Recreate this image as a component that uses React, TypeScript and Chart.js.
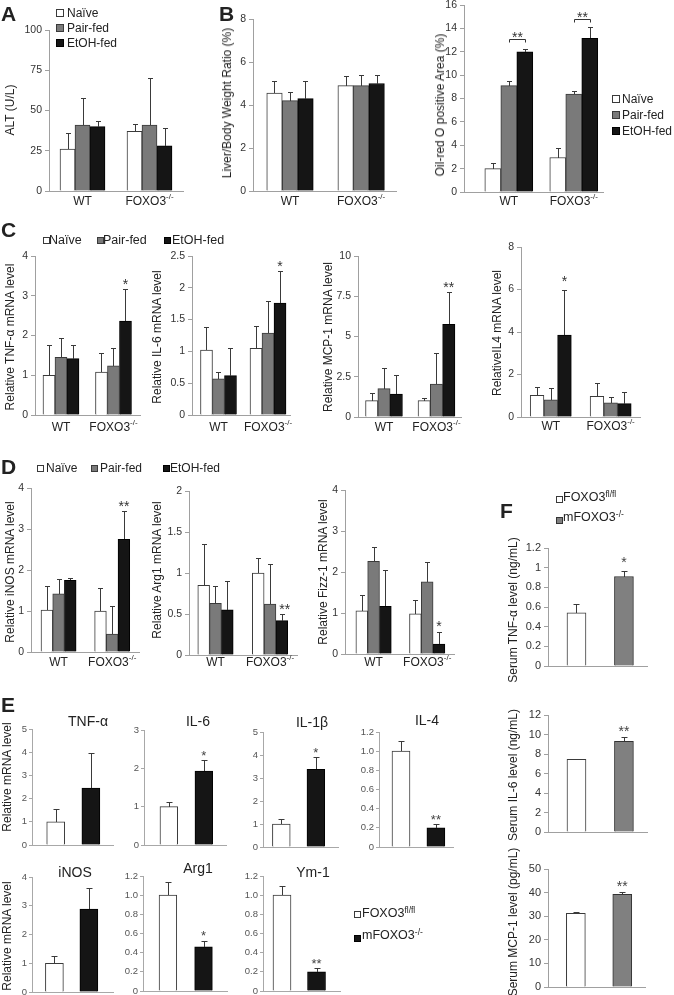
import React, { useEffect, useRef } from 'react';
import { Chart, registerables } from 'chart.js';

Chart.register(...registerables);

const FONT = '"Liberation Sans", Arial, Helvetica, sans-serif';

// ---------------- categories / legend labels ----------------
const genotypes = ['WT', 'FOXO3'];
const genotypeSup = ['', '-/-'];
const dietGroups = ['Naïve', 'Pair-fed', 'EtOH-fed'];
const mouseLines = ['FOXO3', 'mFOXO3'];
const mouseLineSup = ['fl/fl', '-/-'];

// ---------------- A: ALT (rows = Naïve, Pair-fed, EtOH-fed; cols = WT, FOXO3-/-) ----------------
const altMean = [[26, 37], [41, 41], [40, 28]];
const altErr = [[10, 4.5], [16.5, 29], [3.5, 11]];
const altTicks = [0, 25, 50, 75, 100];

// ---------------- B: Liver/Body weight ratio ----------------
const lbwMean = [[4.55, 4.9], [4.2, 4.9], [4.3, 5.0]];
const lbwErr = [[0.58, 0.45], [0.42, 0.5], [0.8, 0.38]];
const lbwTicks = [0, 2, 4, 6, 8];

// ---------------- B: Oil-red O positive area ----------------
const oilMean = [[2.0, 2.95], [9.1, 8.38], [12.0, 13.15]];
const oilErr = [[0.5, 0.8], [0.4, 0.25], [0.2, 0.95]];
const oilTicks = [0, 2, 4, 6, 8, 10, 12, 14, 16];
const oilBrackets = [
  { c: 0, from: 1, to: 2, y: 13.1, t: '**' },
  { c: 1, from: 1, to: 2, y: 14.8, t: '**' },
];

// ---------------- C: hepatic mRNA ----------------
const cTnfMean = [[1.0, 1.08], [1.45, 1.24], [1.42, 2.36]];
const cTnfErr = [[0.77, 0.49], [0.48, 0.45], [0.35, 0.81]];
const cTnfTicks = [0, 1, 2, 3, 4];
const cTnfStars = [{ s: 2, c: 1, t: '*' }];

const cIl6Mean = [[1.02, 1.05], [0.57, 1.29], [0.62, 1.76]];
const cIl6Err = [[0.36, 0.35], [0.1, 0.5], [0.43, 0.5]];
const cIl6Ticks = [0, 0.5, 1, 1.5, 2, 2.5];
const cIl6Stars = [{ s: 2, c: 1, t: '*' }];

const cMcpMean = [[1.02, 1.02], [1.76, 2.05], [1.43, 5.75]];
const cMcpErr = [[0.49, 0.16], [1.29, 1.95], [1.2, 2.0]];
const cMcpTicks = [0, 2.5, 5, 7.5, 10];
const cMcpStars = [{ s: 2, c: 1, t: '**' }];

const cIl4Mean = [[1.02, 0.97], [0.81, 0.67], [3.86, 0.63]];
const cIl4Err = [[0.41, 0.63], [0.55, 0.25], [2.12, 0.57]];
const cIl4Ticks = [0, 2, 4, 6, 8];
const cIl4Stars = [{ s: 2, c: 0, t: '*', dy: -4 }];

// ---------------- D: macrophage mRNA ----------------
const dInosMean = [[1.02, 1.0], [1.42, 0.44], [1.75, 2.75]];
const dInosErr = [[0.58, 0.55], [0.36, 0.68], [0.05, 0.7]];
const dInosTicks = [0, 1, 2, 3, 4];
const dInosStars = [{ s: 2, c: 1, t: '**' }];

const dArg1Mean = [[0.85, 1.0], [0.63, 0.62], [0.55, 0.42]];
const dArg1Err = [[0.5, 0.18], [0.21, 0.49], [0.35, 0.08]];
const dArg1Ticks = [0, 0.5, 1, 1.5, 2];
const dArg1Stars = [{ s: 2, c: 1, t: '**', dx: 3 }];

const dFizzMean = [[1.05, 0.98], [2.26, 1.76], [1.16, 0.24]];
const dFizzErr = [[0.4, 0.34], [0.34, 0.48], [0.89, 0.3]];
const dFizzTicks = [0, 1, 2, 3, 4];
const dFizzStars = [{ s: 2, c: 1, t: '*', dy: -1 }];

// ---------------- E: FOXO3fl/fl vs mFOXO3-/- mRNA ----------------
const eTnfMean = [1.0, 2.45];
const eTnfErr = [0.55, 1.5];
const eTnfTicks = [0, 1, 2, 3, 4, 5];

const eIl6Mean = [1.0, 1.93];
const eIl6Err = [0.13, 0.3];
const eIl6Ticks = [0, 1, 2, 3];
const eIl6Stars = [{ s: 0, c: 1, t: '*' }];

const eIl1bMean = [1.0, 3.38];
const eIl1bErr = [0.22, 0.53];
const eIl1bTicks = [0, 1, 2, 3, 4, 5];
const eIl1bStars = [{ s: 0, c: 1, t: '*' }];

const eIl4Mean = [1.0, 0.2];
const eIl4Err = [0.11, 0.045];
const eIl4Ticks = [0, 0.2, 0.4, 0.6, 0.8, 1.0, 1.2];
const eIl4Stars = [{ s: 0, c: 1, t: '**' }];

const eInosMean = [1.0, 2.88];
const eInosErr = [0.25, 0.74];
const eInosTicks = [0, 1, 2, 3, 4];

const eArg1Mean = [1.0, 0.46];
const eArg1Err = [0.14, 0.06];
const eArg1Ticks = [0, 0.2, 0.4, 0.6, 0.8, 1.0, 1.2];
const eArg1Stars = [{ s: 0, c: 1, t: '*', dy: -1 }];

const eYm1Mean = [1.0, 0.2];
const eYm1Err = [0.1, 0.045];
const eYm1Ticks = [0, 0.2, 0.4, 0.6, 0.8, 1.0, 1.2];
const eYm1Stars = [{ s: 0, c: 1, t: '**' }];

// ---------------- F: serum cytokines ----------------
const fTnfMean = [0.54, 0.91];
const fTnfErr = [0.09, 0.06];
const fTnfTicks = [0, 0.2, 0.4, 0.6, 0.8, 1, 1.2];
const fTnfStars = [{ s: 0, c: 1, t: '*', dy: -4 }];

const fIl6Mean = [7.45, 9.3];
const fIl6Err = [0.08, 0.45];
const fIl6Ticks = [0, 2, 4, 6, 8, 10, 12];
const fIl6Stars = [{ s: 0, c: 1, t: '**', dy: -1 }];

const fMcpMean = [31.2, 39.3];
const fMcpErr = [0.6, 1.1];
const fMcpTicks = [0, 10, 20, 30, 40, 50];
const fMcpStars = [{ s: 0, c: 1, t: '**', dy: -1 }];

// ---------------- styles ----------------
const DIET_FILL = ['#ffffff', '#7a7a7a', '#151515'];
const DIET_STROKE = ['#3a3a3a', '#3a3a3a', '#000000'];
const E_FILL = ['#ffffff', '#151515'];
const E_STROKE = ['#3a3a3a', '#000000'];
const F_FILL = ['#ffffff', '#808080'];
const F_STROKE = ['#3a3a3a', '#333333'];

const fmtPlain = (v: number) => String(Number(v.toFixed(2)));
const fmtOne = (v: number) => (v === 0 ? '0' : v.toFixed(1));

type Star = { s: number; c: number; t: string; dx?: number; dy?: number };
type Bracket = { c: number; from: number; to: number; y: number; t: string };
type Spec = {
  key: string;
  x0: number; x1: number; yTop: number; yBottom: number;
  xMin: number; xMax: number;
  ticks: number[]; fmt: (v: number) => string;
  means: number[][]; errs: number[][];
  fills: (string | string[])[]; strokes: (string | string[])[];
  barW: number; cap: number;
  labels?: string[]; sups?: string[]; labelY?: number;
  stars?: Star[]; brackets?: Bracket[];
  tickSize: number; tickColor: string; axisColor: string; tickLen: number; tickPad: number;
  starSize: number; starColor: string;
};

const ABCD = { tickSize: 10.5, tickColor: '#333', axisColor: '#a0a0a0', tickLen: 4, tickPad: 3, starSize: 14, starColor: '#333', cap: 5 };
const EST = { tickSize: 9.5, tickColor: '#555', axisColor: '#a8a8a8', tickLen: 3, tickPad: 2, starSize: 13, starColor: '#444', cap: 6 };
const FST = { tickSize: 11, tickColor: '#333', axisColor: '#a0a0a0', tickLen: 4, tickPad: 3, starSize: 14, starColor: '#444', cap: 6 };

const diet = (means: number[][], errs: number[][]) => ({ means, errs, fills: DIET_FILL, strokes: DIET_STROKE });
const two = (m: number[], e: number[], fill: string[], stroke: string[]) => ({ means: [m], errs: [e], fills: [fill], strokes: [stroke] });
const gx = { labels: genotypes, sups: genotypeSup };

const specs: Spec[] = [
  { key: 'A', ...ABCD, ...diet(altMean, altErr), ...gx, x0: 49, x1: 183, yTop: 30, yBottom: 191, xMin: -0.5, xMax: 1.5, ticks: altTicks, fmt: fmtPlain, barW: 15, labelY: 202 },
  { key: 'B1', ...ABCD, ...diet(lbwMean, lbwErr), ...gx, x0: 253, x1: 396, yTop: 19, yBottom: 191, xMin: -0.52, xMax: 1.49, ticks: lbwTicks, fmt: fmtPlain, barW: 15.5, labelY: 202 },
  { key: 'B2', ...ABCD, ...diet(oilMean, oilErr), ...gx, x0: 464, x1: 603, yTop: 5, yBottom: 192, xMin: -0.69, xMax: 1.45, ticks: oilTicks, fmt: fmtPlain, barW: 16, labelY: 202, brackets: oilBrackets },
  { key: 'C1', ...ABCD, ...diet(cTnfMean, cTnfErr), ...gx, x0: 35, x1: 140, yTop: 256, yBottom: 415, xMin: -0.495, xMax: 1.505, ticks: cTnfTicks, fmt: fmtPlain, barW: 12, labelY: 428, stars: cTnfStars },
  { key: 'C2', ...ABCD, ...diet(cIl6Mean, cIl6Err), ...gx, x0: 192, x1: 290, yTop: 256, yBottom: 415, xMin: -0.535, xMax: 1.444, ticks: cIl6Ticks, fmt: fmtPlain, barW: 12, labelY: 428, stars: cIl6Stars },
  { key: 'C3', ...ABCD, ...diet(cMcpMean, cMcpErr), ...gx, x0: 358, x1: 461, yTop: 256, yBottom: 417, xMin: -0.495, xMax: 1.467, ticks: cMcpTicks, fmt: fmtPlain, barW: 12.3, labelY: 428, stars: cMcpStars },
  { key: 'C4', ...ABCD, ...diet(cIl4Mean, cIl4Err), ...gx, x0: 521, x1: 640, yTop: 247, yBottom: 417, xMin: -0.497, xMax: 1.49, ticks: cIl4Ticks, fmt: fmtPlain, barW: 13.7, labelY: 427, stars: cIl4Stars },
  { key: 'D1', ...ABCD, ...diet(dInosMean, dInosErr), ...gx, x0: 31, x1: 139, yTop: 488, yBottom: 652, xMin: -0.514, xMax: 1.5, ticks: dInosTicks, fmt: fmtPlain, barW: 11.7, labelY: 663, stars: dInosStars },
  { key: 'D2', ...ABCD, ...diet(dArg1Mean, dArg1Err), ...gx, x0: 189, x1: 297, yTop: 491, yBottom: 655, xMin: -0.486, xMax: 1.495, ticks: dArg1Ticks, fmt: fmtPlain, barW: 11.8, labelY: 663, stars: dArg1Stars },
  { key: 'D3', ...ABCD, ...diet(dFizzMean, dFizzErr), ...gx, x0: 345, x1: 454, yTop: 490, yBottom: 654, xMin: -0.533, xMax: 1.5, ticks: dFizzTicks, fmt: fmtPlain, barW: 11.8, labelY: 663, stars: dFizzStars },
  { key: 'E1', ...EST, ...two(eTnfMean, eTnfErr, E_FILL, E_STROKE), x0: 32, x1: 113, yTop: 729, yBottom: 845, xMin: -0.674, xMax: 1.629, ticks: eTnfTicks, fmt: fmtPlain, barW: 18 },
  { key: 'E2', ...EST, ...two(eIl6Mean, eIl6Err, E_FILL, E_STROKE), x0: 144, x1: 226, yTop: 730, yBottom: 845, xMin: -0.709, xMax: 1.634, ticks: eIl6Ticks, fmt: fmtPlain, barW: 17.7, stars: eIl6Stars },
  { key: 'E3', ...EST, ...two(eIl1bMean, eIl1bErr, E_FILL, E_STROKE), x0: 263, x1: 338, yTop: 732, yBottom: 847, xMin: -0.53, xMax: 1.64, ticks: eIl1bTicks, fmt: fmtPlain, barW: 17.8, stars: eIl1bStars },
  { key: 'E4', ...EST, ...two(eIl4Mean, eIl4Err, E_FILL, E_STROKE), x0: 379, x1: 453, yTop: 732, yBottom: 847, xMin: -0.63, xMax: 1.49, ticks: eIl4Ticks, fmt: fmtOne, barW: 18, stars: eIl4Stars },
  { key: 'E5', ...EST, ...two(eInosMean, eInosErr, E_FILL, E_STROKE), x0: 32, x1: 113, yTop: 877, yBottom: 992, xMin: -0.65, xMax: 1.7, ticks: eInosTicks, fmt: fmtPlain, barW: 18 },
  { key: 'E6', ...EST, ...two(eArg1Mean, eArg1Err, E_FILL, E_STROKE), x0: 143, x1: 227, yTop: 876, yBottom: 991, xMin: -0.7, xMax: 1.66, ticks: eArg1Ticks, fmt: fmtOne, barW: 17.7, stars: eArg1Stars },
  { key: 'E7', ...EST, ...two(eYm1Mean, eYm1Err, E_FILL, E_STROKE), x0: 263, x1: 340, yTop: 876, yBottom: 991, xMin: -0.55, xMax: 1.68, ticks: eYm1Ticks, fmt: fmtOne, barW: 18, stars: eYm1Stars },
  { key: 'F1', ...FST, ...two(fTnfMean, fTnfErr, F_FILL, F_STROKE), x0: 548, x1: 647, yTop: 548, yBottom: 666, xMin: -0.6, xMax: 1.486, ticks: fTnfTicks, fmt: fmtPlain, barW: 19, stars: fTnfStars },
  { key: 'F2', ...FST, ...two(fIl6Mean, fIl6Err, F_FILL, F_STROKE), x0: 548, x1: 647, yTop: 715, yBottom: 832, xMin: -0.6, xMax: 1.486, ticks: fIl6Ticks, fmt: fmtPlain, barW: 19, stars: fIl6Stars },
  { key: 'F3', ...FST, ...two(fMcpMean, fMcpErr, F_FILL, F_STROKE), x0: 548, x1: 645, yTop: 869, yBottom: 987, xMin: -0.6, xMax: 1.49, ticks: fMcpTicks, fmt: fmtPlain, barW: 19, stars: fMcpStars },
];

const PL = 60, PR = 16, PT = 40, PB = 30;

function BarPanel({ spec }: { spec: Spec }) {
  const ref = useRef<HTMLCanvasElement | null>(null);
  const left = spec.x0 - PL;
  const top = spec.yTop - PT;
  const width = spec.x1 - spec.x0 + PL + PR;
  const height = spec.yBottom - spec.yTop + PT + PB;

  useEffect(() => {
    const canvas = ref.current;
    if (!canvas) return;
    const overlay = {
      id: 'overlay',
      afterDatasetsDraw(chart: any) {
        const ctx = chart.ctx as CanvasRenderingContext2D;
        const ys = chart.scales.y;
        const xs = chart.scales.x;
        ctx.save();
        // error bars (upper whisker)
        ctx.strokeStyle = '#3a3a3a';
        ctx.lineWidth = 1;
        spec.means.forEach((row, s) => {
          const meta = chart.getDatasetMeta(s);
          row.forEach((v, c) => {
            const el = meta.data[c];
            if (!el) return;
            const x = Math.round(el.x) + 0.5;
            const yb = Math.round(ys.getPixelForValue(v));
            const ye = Math.round(ys.getPixelForValue(v + spec.errs[s][c])) + 0.5;
            ctx.beginPath();
            ctx.moveTo(x, yb);
            ctx.lineTo(x, ye);
            ctx.moveTo(x - spec.cap / 2, ye);
            ctx.lineTo(x + spec.cap / 2, ye);
            ctx.stroke();
          });
        });
        // significance stars
        ctx.fillStyle = spec.starColor;
        ctx.font = `${spec.starSize}px ${FONT}`;
        ctx.textAlign = 'center';
        ctx.textBaseline = 'alphabetic';
        (spec.stars || []).forEach((st) => {
          const el = chart.getDatasetMeta(st.s).data[st.c];
          const ye = ys.getPixelForValue(spec.means[st.s][st.c] + spec.errs[st.s][st.c]);
          ctx.fillText(st.t, el.x + (st.dx || 0), ye + (st.dy || 0));
        });
        // brackets
        ctx.strokeStyle = '#333';
        (spec.brackets || []).forEach((b) => {
          const xa = Math.round(chart.getDatasetMeta(b.from).data[b.c].x) + 0.5;
          const xb = Math.round(chart.getDatasetMeta(b.to).data[b.c].x) + 0.5;
          const yp = Math.round(ys.getPixelForValue(b.y)) + 0.5;
          ctx.beginPath();
          ctx.moveTo(xa, yp + 3);
          ctx.lineTo(xa, yp);
          ctx.lineTo(xb, yp);
          ctx.lineTo(xb, yp + 3);
          ctx.stroke();
          ctx.fillText(b.t, (xa + xb) / 2, yp + 2);
        });
        // category labels with superscripts
        if (spec.labels && spec.labelY !== undefined) {
          const ly = spec.labelY - top;
          ctx.fillStyle = '#222';
          ctx.textBaseline = 'middle';
          ctx.textAlign = 'left';
          spec.labels.forEach((lab, c) => {
            const sup = spec.sups ? spec.sups[c] : '';
            ctx.font = `12px ${FONT}`;
            const w1 = ctx.measureText(lab).width;
            ctx.font = `8px ${FONT}`;
            const w2 = sup ? ctx.measureText(sup).width : 0;
            const cx = xs.getPixelForValue(c);
            const sx = cx - (w1 + w2) / 2;
            ctx.font = `12px ${FONT}`;
            ctx.fillText(lab, sx, ly);
            if (sup) {
              ctx.font = `8px ${FONT}`;
              ctx.fillText(sup, sx + w1, ly - 5);
            }
          });
        }
        ctx.restore();
      },
    };

    const chart = new Chart(canvas, {
      type: 'bar',
      data: {
        datasets: spec.means.map((row, s) => ({
          data: row.map((v, c) => ({ x: c, y: v })),
          backgroundColor: spec.fills[s] as any,
          borderColor: spec.strokes[s] as any,
          borderWidth: 1,
          barThickness: spec.barW,
        })),
      },
      options: {
        responsive: false,
        animation: false,
        events: [],
        layout: { padding: { left: 0, right: PR, top: PT, bottom: PB } },
        plugins: { legend: { display: false }, tooltip: { enabled: false } },
        scales: {
          x: {
            type: 'linear',
            min: spec.xMin,
            max: spec.xMax,
            bounds: 'data',
            offset: false,
            grid: { display: false, drawTicks: false },
            ticks: { display: false },
            border: { display: true, color: spec.axisColor, width: 1 },
            afterFit: (s: any) => { s.height = 0; },
          },
          y: {
            type: 'linear',
            min: 0,
            max: spec.ticks[spec.ticks.length - 1],
            bounds: 'data',
            afterBuildTicks: (s: any) => { s.ticks = spec.ticks.map((v) => ({ value: v })); },
            ticks: {
              autoSkip: false,
              callback: (v: any) => spec.fmt(Number(v)),
              font: { family: FONT, size: spec.tickSize },
              color: spec.tickColor,
              padding: spec.tickPad,
            },
            grid: { display: true, drawOnChartArea: false, drawTicks: true, tickLength: spec.tickLen, color: spec.axisColor },
            border: { display: true, color: spec.axisColor, width: 1 },
            afterFit: (s: any) => { s.width = PL; },
          },
        },
      } as any,
      plugins: [overlay],
    });
    return () => chart.destroy();
  }, [spec]);

  return (
    <canvas
      ref={ref}
      width={width}
      height={height}
      style={{ position: 'absolute', left, top, width, height }}
    />
  );
}

const base: React.CSSProperties = { position: 'absolute', fontFamily: FONT, lineHeight: 1, whiteSpace: 'nowrap', color: '#222' };

function T({ x, y, size = 12, bold = false, center = false, children }: any) {
  return (
    <div style={{ ...base, left: x, top: y, fontSize: size, fontWeight: bold ? 700 : 400, transform: center ? 'translate(-50%,-50%)' : 'translateY(-50%)' }}>
      {children}
    </div>
  );
}

function V({ x, y, size = 12, children }: any) {
  return (
    <div style={{ ...base, left: x, top: y, fontSize: size, transform: 'translate(-50%,-50%) rotate(-90deg)' }}>
      {children}
    </div>
  );
}

function Sw({ x, y, s = 7, fill, stroke = '#333' }: any) {
  return (
    <div style={{ position: 'absolute', left: x, top: y - s / 2, width: s, height: s, boxSizing: 'border-box', background: fill, border: `1px solid ${stroke}` }} />
  );
}

const Sup = ({ children }: any) => <span style={{ fontSize: '0.68em', verticalAlign: '0.5em' }}>{children}</span>;

export default function App() {
  return (
    <div style={{ position: 'fixed', left: 0, top: 0, width: 674, height: 995, background: '#fff', overflow: 'hidden' }}>
      {specs.map((s) => <BarPanel key={s.key} spec={s} />)}

      {/* panel letters */}
      <T x={1} y={13} size={21} bold>A</T>
      <T x={219} y={13} size={21} bold>B</T>
      <T x={1} y={229} size={21} bold>C</T>
      <T x={1} y={466} size={21} bold>D</T>
      <T x={1} y={704} size={21} bold>E</T>
      <T x={500} y={510} size={21} bold>F</T>

      {/* A legend */}
      {dietGroups.map((g, i) => (
        <React.Fragment key={'al' + i}>
          <Sw x={56} y={13 + i * 15} s={8} fill={DIET_FILL[i]} stroke={DIET_STROKE[i]} />
          <T x={67} y={13 + i * 15} size={12}>{g}</T>
        </React.Fragment>
      ))}
      {/* Oil-red legend */}
      {dietGroups.map((g, i) => (
        <React.Fragment key={'bl' + i}>
          <Sw x={612} y={99 + i * 16} s={8} fill={DIET_FILL[i]} stroke={DIET_STROKE[i]} />
          <T x={622} y={99 + i * 16} size={12}>{g}</T>
        </React.Fragment>
      ))}
      {/* C legend */}
      {dietGroups.map((g, i) => (
        <React.Fragment key={'cl' + i}>
          <Sw x={[43, 97, 164][i]} y={240} s={7} fill={DIET_FILL[i]} stroke={DIET_STROKE[i]} />
          <T x={[49, 103, 172][i]} y={240} size={12.5}>{g}</T>
        </React.Fragment>
      ))}
      {/* D legend */}
      {dietGroups.map((g, i) => (
        <React.Fragment key={'dl' + i}>
          <Sw x={[37, 91, 163][i]} y={468} s={7} fill={DIET_FILL[i]} stroke={DIET_STROKE[i]} />
          <T x={[46, 100, 170][i]} y={468} size={12}>{g}</T>
        </React.Fragment>
      ))}
      {/* E legend */}
      {mouseLines.map((g, i) => (
        <React.Fragment key={'el' + i}>
          <Sw x={354} y={[914, 938][i]} s={7} fill={E_FILL[i]} stroke={E_STROKE[i]} />
          <T x={362} y={[913, 935][i]} size={12.5}>{g}<Sup>{mouseLineSup[i]}</Sup></T>
        </React.Fragment>
      ))}
      {/* F legend */}
      {mouseLines.map((g, i) => (
        <React.Fragment key={'fl' + i}>
          <Sw x={556} y={[499, 520][i]} s={7} fill={F_FILL[i]} stroke={F_STROKE[i]} />
          <T x={563} y={[497, 517][i]} size={12.5}>{g}<Sup>{mouseLineSup[i]}</Sup></T>
        </React.Fragment>
      ))}

      {/* y-axis titles */}
      <V x={10} y={110}>ALT (U/L)</V>
      <V x={227} y={103}>Liver/Body Weight Ratio (%)</V>
      <V x={440} y={105}>Oil-red O positive Area (%)</V>
      <V x={10} y={337}>Relative TNF-α mRNA level</V>
      <V x={157} y={337}>Relative IL-6 mRNA level</V>
      <V x={328} y={337}>Relative MCP-1 mRNA level</V>
      <V x={497} y={333}>RelativeIL4 mRNA level</V>
      <V x={10} y={572}>Relative iNOS mRNA level</V>
      <V x={157} y={570}>Relative Arg1 mRNA level</V>
      <V x={323} y={572}>Relative Fizz-1 mRNA level</V>
      <V x={7} y={777}>Relative mRNA level</V>
      <V x={7} y={936}>Relative mRNA level</V>
      <V x={513} y={610}>Serum TNF-α level (ng/mL)</V>
      <V x={513} y={775}>Serum IL-6 level (ng/mL)</V>
      <V x={513} y={922}>Serum MCP-1 level (pg/mL)</V>

      {/* E chart titles */}
      <T x={88} y={721} size={14} center>TNF-α</T>
      <T x={198} y={721} size={14} center>IL-6</T>
      <T x={312} y={722} size={14} center>IL-1β</T>
      <T x={427} y={720} size={14} center>IL-4</T>
      <T x={75} y={872} size={14} center>iNOS</T>
      <T x={198} y={868} size={14} center>Arg1</T>
      <T x={313} y={872} size={14} center>Ym-1</T>
    </div>
  );
}
